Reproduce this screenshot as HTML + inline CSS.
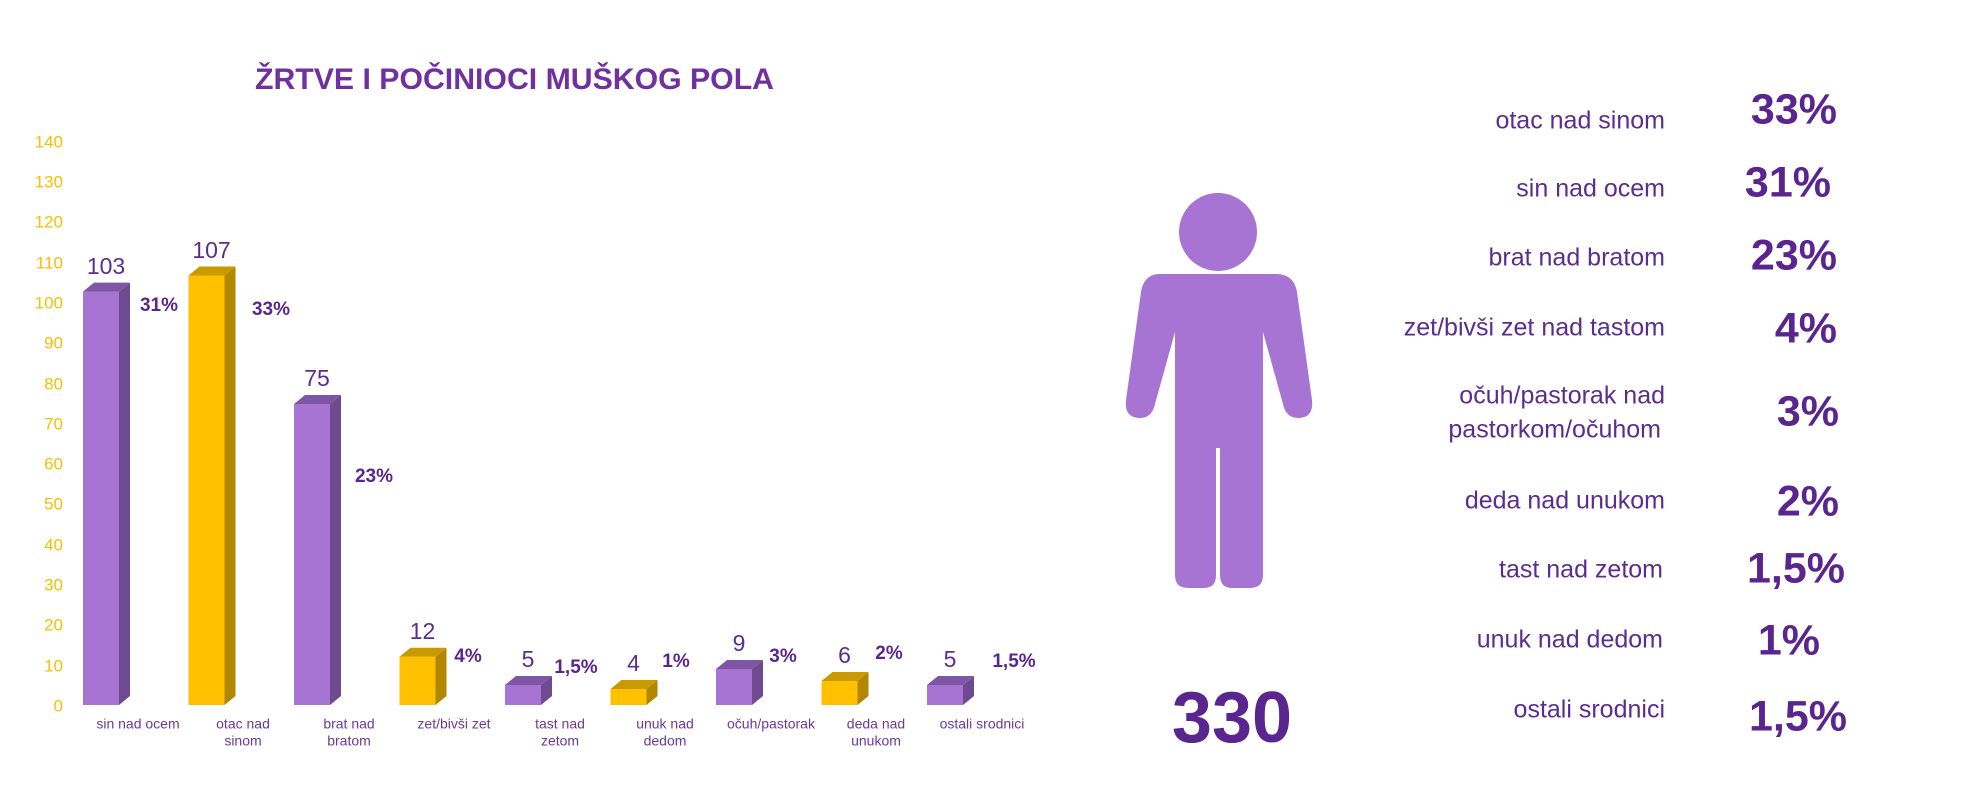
<!DOCTYPE html>
<html><head><meta charset="utf-8"><style>
html,body{margin:0;padding:0;background:#fff;}
svg{display:block;font-family:"Liberation Sans",sans-serif;}
.yt{fill:#f5c000;font-size:17px;text-anchor:end;dominant-baseline:middle;}
.val{fill:#5b2d8e;font-size:23px;text-anchor:middle;}
.pc{fill:#5b2590;font-size:19px;font-weight:bold;text-anchor:middle;dominant-baseline:middle;}
.cat{fill:#6a3a9a;font-size:14px;text-anchor:middle;dominant-baseline:middle;}
.lab{fill:#5b2d8e;font-size:25px;text-anchor:end;dominant-baseline:middle;}
.big{fill:#5b2590;font-size:43px;font-weight:bold;text-anchor:end;dominant-baseline:middle;}
</style></head><body>
<svg width="1970" height="803" viewBox="0 0 1970 803">
<text x="255" y="81" textLength="519" lengthAdjust="spacingAndGlyphs" style="fill:#7030a0;font-size:30px;font-weight:bold;dominant-baseline:middle">ŽRTVE I POČINIOCI MUŠKOG POLA</text>
<g class="yt">
<text x="63" y="143">140</text><text x="63" y="183">130</text><text x="63" y="223">120</text><text x="63" y="264">110</text><text x="63" y="304">100</text><text x="63" y="344">90</text><text x="63" y="385">80</text><text x="63" y="425">70</text><text x="63" y="465">60</text><text x="63" y="505">50</text><text x="63" y="546">40</text><text x="63" y="586">30</text><text x="63" y="626">20</text><text x="63" y="667">10</text><text x="63" y="707">0</text>
</g>
<g>
<rect x="83" y="291.6" width="36" height="413.4" fill="#a874d4"/><polygon points="119,291.6 130,282.6 130,696 119,705" fill="#6e4a8f"/><polygon points="83,291.6 94,282.6 130,282.6 119,291.6" fill="#7f55a6"/>
<rect x="188.5" y="275.5" width="36" height="429.5" fill="#ffc000"/><polygon points="224.5,275.5 235.5,266.5 235.5,696 224.5,705" fill="#b38600"/><polygon points="188.5,275.5 199.5,266.5 235.5,266.5 224.5,275.5" fill="#c99a00"/>
<rect x="294" y="404" width="36" height="301" fill="#a874d4"/><polygon points="330,404 341,395 341,696 330,705" fill="#6e4a8f"/><polygon points="294,404 305,395 341,395 330,404" fill="#7f55a6"/>
<rect x="399.5" y="656.8" width="36" height="48.2" fill="#ffc000"/><polygon points="435.5,656.8 446.5,647.8 446.5,696 435.5,705" fill="#b38600"/><polygon points="399.5,656.8 410.5,647.8 446.5,647.8 435.5,656.8" fill="#c99a00"/>
<rect x="505" y="685" width="36" height="20" fill="#a874d4"/><polygon points="541,685 552,676 552,696 541,705" fill="#6e4a8f"/><polygon points="505,685 516,676 552,676 541,685" fill="#7f55a6"/>
<rect x="610.5" y="689" width="36" height="16" fill="#ffc000"/><polygon points="646.5,689 657.5,680 657.5,696 646.5,705" fill="#b38600"/><polygon points="610.5,689 621.5,680 657.5,680 646.5,689" fill="#c99a00"/>
<rect x="716" y="669" width="36" height="36" fill="#a874d4"/><polygon points="752,669 763,660 763,696 752,705" fill="#6e4a8f"/><polygon points="716,669 727,660 763,660 752,669" fill="#7f55a6"/>
<rect x="821.5" y="681" width="36" height="24" fill="#ffc000"/><polygon points="857.5,681 868.5,672 868.5,696 857.5,705" fill="#b38600"/><polygon points="821.5,681 832.5,672 868.5,672 857.5,681" fill="#c99a00"/>
<rect x="927" y="685" width="36" height="20" fill="#a874d4"/><polygon points="963,685 974,676 974,696 963,705" fill="#6e4a8f"/><polygon points="927,685 938,676 974,676 963,685" fill="#7f55a6"/>
</g>
<g class="val">
<text x="106" y="274">103</text><text x="211.5" y="258">107</text><text x="317" y="386">75</text><text x="422.5" y="639">12</text><text x="528" y="667">5</text><text x="633.5" y="671">4</text><text x="739" y="651">9</text><text x="844.5" y="663">6</text><text x="950" y="667">5</text>
</g>
<g class="pc">
<text x="159" y="306">31%</text><text x="271" y="310">33%</text><text x="374" y="477">23%</text><text x="468" y="657">4%</text><text x="576" y="668">1,5%</text><text x="676" y="662">1%</text><text x="783" y="657">3%</text><text x="889" y="654">2%</text><text x="1014" y="662">1,5%</text>
</g>
<g class="cat">
<text x="138" y="725">sin nad ocem</text>
<text x="243" y="725">otac nad</text><text x="243" y="742">sinom</text>
<text x="349" y="725">brat nad</text><text x="349" y="742">bratom</text>
<text x="454" y="725">zet/bivši zet</text>
<text x="560" y="725">tast nad</text><text x="560" y="742">zetom</text>
<text x="665" y="725">unuk nad</text><text x="665" y="742">dedom</text>
<text x="771" y="725">očuh/pastorak</text>
<text x="876" y="725">deda nad</text><text x="876" y="742">unukom</text>
<text x="982" y="725">ostali srodnici</text>
</g>
<circle cx="1218" cy="232" r="39" fill="#a874d4"/>
<path d="M1160,274 L1276,274 Q1294,274 1297,292 L1312,400 Q1314,418 1298,418 Q1286,418 1283,404 L1263,332 L1263,575 Q1263,588 1250,588 L1232,588 Q1220,588 1220,575 L1220,448 L1216,448 L1216,575 Q1216,588 1204,588 L1188,588 Q1175,588 1175,575 L1175,332 L1155,404 Q1152,418 1140,418 Q1124,418 1126,400 L1141,292 Q1144,274 1160,274 Z" fill="#a874d4"/>
<text x="1232" y="723" style="fill:#5b2590;font-size:72px;font-weight:bold;text-anchor:middle;dominant-baseline:middle">330</text>
<g class="lab">
<text x="1665" y="122">otac nad sinom</text>
<text x="1665" y="190">sin nad ocem</text>
<text x="1665" y="259">brat nad bratom</text>
<text x="1665" y="329">zet/bivši zet nad tastom</text>
<text x="1665" y="397">očuh/pastorak nad</text>
<text x="1661" y="431">pastorkom/očuhom</text>
<text x="1665" y="502">deda nad unukom</text>
<text x="1663" y="571">tast nad zetom</text>
<text x="1663" y="641">unuk nad dedom</text>
<text x="1665" y="711">ostali srodnici</text>
</g>
<g class="big">
<text x="1837" y="112">33%</text>
<text x="1831" y="185">31%</text>
<text x="1837" y="258">23%</text>
<text x="1837" y="331">4%</text>
<text x="1839" y="414">3%</text>
<text x="1839" y="504">2%</text>
<text x="1845" y="571">1,5%</text>
<text x="1820" y="643">1%</text>
<text x="1847" y="719">1,5%</text>
</g>
</svg>
</body></html>
